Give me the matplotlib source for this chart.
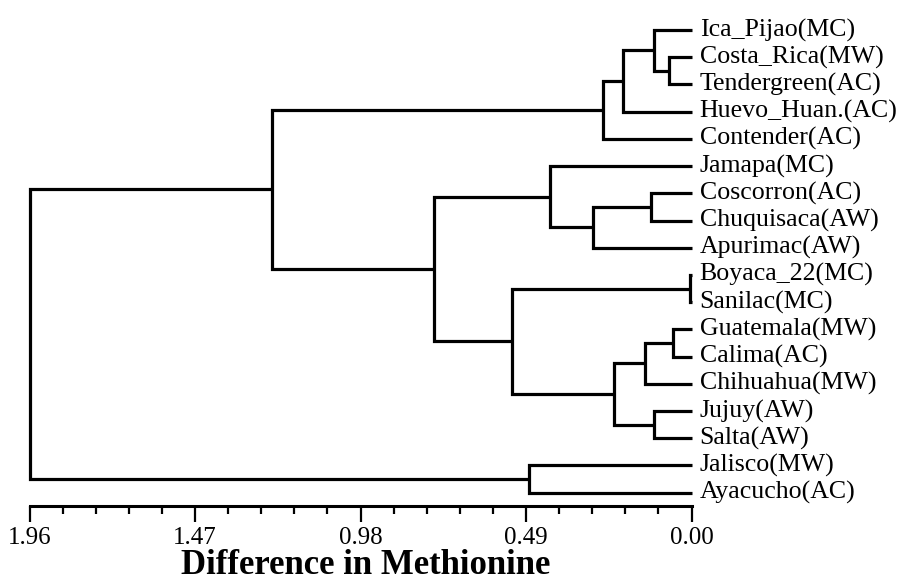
import matplotlib
matplotlib.use("Agg")
import matplotlib.pyplot as plt
from matplotlib.ticker import FixedLocator, MultipleLocator, FormatStrFormatter

# Leaf labels, top to bottom
leaves = [
    "Ica_Pijao(MC)", "Costa_Rica(MW)", "Tendergreen(AC)", "Huevo_Huan.(AC)",
    "Contender(AC)", "Jamapa(MC)", "Coscorron(AC)", "Chuquisaca(AW)",
    "Apurimac(AW)", "Boyaca_22(MC)", "Sanilac(MC)", "Guatemala(MW)",
    "Calima(AC)", "Chihuahua(MW)", "Jujuy(AW)", "Salta(AW)",
    "Jalisco(MW)", "Ayacucho(AC)",
]

# Agglomeration steps: (cluster a, cluster b, merge distance).
# Indices < len(leaves) are leaves; each step creates cluster len(leaves)+k.
merge_a = [9, 11, 1, 14, 0, 6, 19, 22, 24, 25, 23, 5, 16, 18, 29, 27, 33]
merge_b = [10, 12, 2, 15, 20, 7, 13, 3, 21, 4, 8, 28, 17, 26, 31, 32, 30]
merge_h = [0.003, 0.054, 0.066, 0.111, 0.111, 0.121, 0.138, 0.202, 0.229,
           0.263, 0.293, 0.419, 0.480, 0.532, 0.761, 1.241, 1.96]

major_ticks = [1.96, 1.47, 0.98, 0.49, 0.00]

plt.rcParams["font.family"] = ["Liberation Serif", "DejaVu Serif"]

fig = plt.figure(figsize=(9.0, 5.84), dpi=100)
ax = fig.add_axes([29.5 / 900, 1 - 505.7 / 584, (691.5 - 29.5) / 900, 505.7 / 584])

n = len(leaves)
ypos = {i: float(i) for i in range(n)}
hpos = {i: 0.0 for i in range(n)}

lw = 2.3
for k, (a, b, h) in enumerate(zip(merge_a, merge_b, merge_h)):
    node = n + k
    ya, yb = ypos[a], ypos[b]
    ax.plot([hpos[a], h, h, hpos[b]], [ya, ya, yb, yb], color="black",
            lw=lw, solid_joinstyle="miter", solid_capstyle="butt", clip_on=False)
    ypos[node] = (ya + yb) / 2
    hpos[node] = h

for i, name in enumerate(leaves):
    ax.text(-0.024, i, name, ha="left", va="center", fontsize=18.6)

ax.set_xlim(1.96, 0.0)
ax.set_ylim(17.48, -1.103)

for side in ("left", "top", "right"):
    ax.spines[side].set_visible(False)
ax.spines["bottom"].set_linewidth(2.2)
ax.set_yticks([])

ax.xaxis.set_major_locator(FixedLocator(major_ticks))
ax.xaxis.set_minor_locator(MultipleLocator(0.098))
ax.xaxis.set_major_formatter(FormatStrFormatter("%.2f"))
ax.tick_params(axis="x", which="major", length=11.5, width=1.6, direction="out",
               labelsize=18, pad=4)
ax.tick_params(axis="x", which="minor", length=5.8, width=1.6, direction="out")

fig.text(366 / 900, 1 - 566 / 584, "Difference in Methionine", ha="center",
         va="center", fontsize=25, fontweight="bold")

fig.savefig("out.png", dpi=100)
